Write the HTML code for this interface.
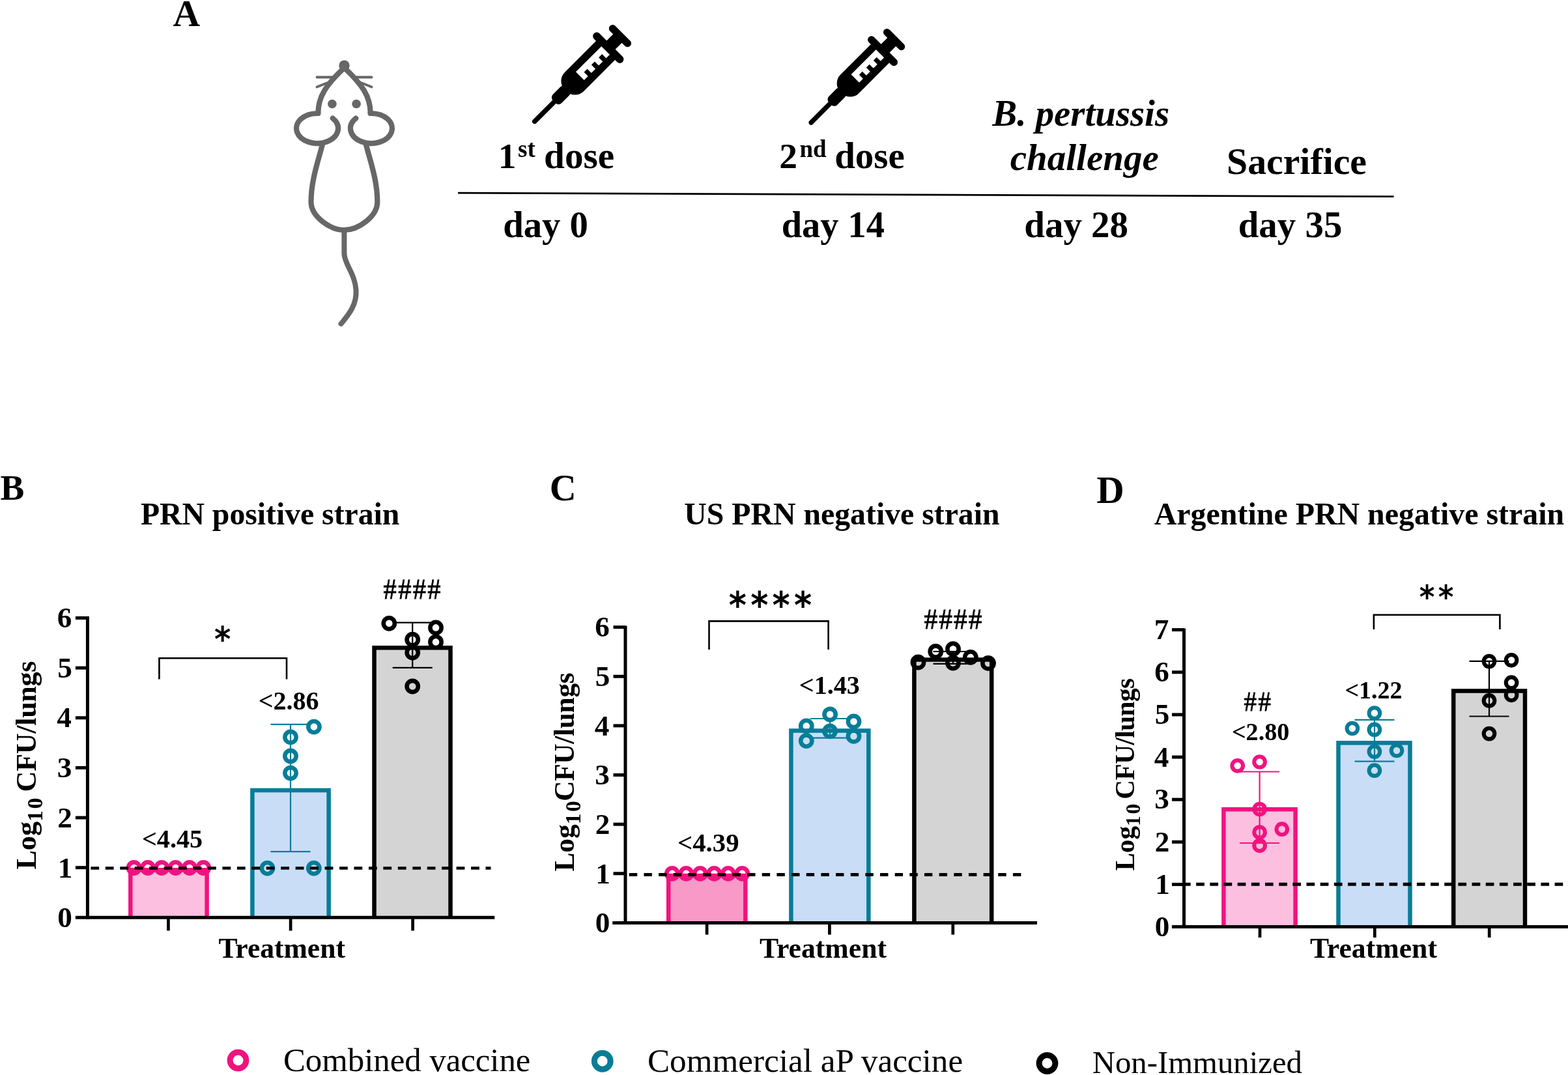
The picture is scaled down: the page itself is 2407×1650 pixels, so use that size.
<!DOCTYPE html>
<html><head><meta charset="utf-8"><title>Figure</title>
<style>html,body{margin:0;padding:0;background:#fff;} svg{display:block;}</style></head>
<body><svg width="2407" height="1650" viewBox="0 0 2407 1650" font-family="'Liberation Serif', 'Times New Roman', serif">
<rect width="2407" height="1650" fill="#fff"/>
<rect x="200.30" y="1335.20" width="117.30" height="73.10" fill="#fdbfe0"/>
<path d="M200.30,1408.30 L200.30,1335.20 L317.60,1335.20 L317.60,1408.30" fill="none" stroke="#f0137f" stroke-width="6.5" stroke-linejoin="miter"/>
<rect x="387.40" y="1213.00" width="117.20" height="195.30" fill="#c9ddf7"/>
<path d="M387.40,1408.30 L387.40,1213.00 L504.60,1213.00 L504.60,1408.30" fill="none" stroke="#077d97" stroke-width="6.5" stroke-linejoin="miter"/>
<rect x="574.50" y="994.20" width="117.00" height="414.10" fill="#d4d4d4"/>
<path d="M574.50,1408.30 L574.50,994.20 L691.50,994.20 L691.50,1408.30" fill="none" stroke="#000" stroke-width="6.5" stroke-linejoin="miter"/>
<line x1="446.00" y1="1111.90" x2="446.00" y2="1307.10" stroke="#077d97" stroke-width="2.2" stroke-linecap="butt" />
<line x1="415.50" y1="1111.90" x2="476.50" y2="1111.90" stroke="#077d97" stroke-width="2.2" stroke-linecap="butt" />
<line x1="415.50" y1="1307.10" x2="476.50" y2="1307.10" stroke="#077d97" stroke-width="2.2" stroke-linecap="butt" />
<line x1="633.20" y1="955.70" x2="633.20" y2="1024.90" stroke="#000" stroke-width="2.2" stroke-linecap="butt" />
<line x1="602.70" y1="955.70" x2="663.70" y2="955.70" stroke="#000" stroke-width="2.2" stroke-linecap="butt" />
<line x1="602.70" y1="1024.90" x2="663.70" y2="1024.90" stroke="#000" stroke-width="2.2" stroke-linecap="butt" />
<circle cx="205.60" cy="1332.00" r="8.6" fill="none" stroke="#f0137f" stroke-width="6.6"/>
<circle cx="226.92" cy="1332.00" r="8.6" fill="none" stroke="#f0137f" stroke-width="6.6"/>
<circle cx="248.24" cy="1332.00" r="8.6" fill="none" stroke="#f0137f" stroke-width="6.6"/>
<circle cx="269.56" cy="1332.00" r="8.6" fill="none" stroke="#f0137f" stroke-width="6.6"/>
<circle cx="290.88" cy="1332.00" r="8.6" fill="none" stroke="#f0137f" stroke-width="6.6"/>
<circle cx="312.20" cy="1332.00" r="8.6" fill="none" stroke="#f0137f" stroke-width="6.6"/>
<circle cx="446.00" cy="1131.40" r="8.6" fill="none" stroke="#077d97" stroke-width="6.6"/>
<circle cx="446.00" cy="1160.50" r="8.6" fill="none" stroke="#077d97" stroke-width="6.6"/>
<circle cx="446.00" cy="1186.60" r="8.6" fill="none" stroke="#077d97" stroke-width="6.6"/>
<circle cx="481.90" cy="1115.60" r="8.6" fill="none" stroke="#077d97" stroke-width="6.6"/>
<circle cx="410.40" cy="1332.60" r="8.6" fill="none" stroke="#077d97" stroke-width="6.6"/>
<circle cx="481.80" cy="1332.60" r="8.6" fill="none" stroke="#077d97" stroke-width="6.6"/>
<circle cx="597.30" cy="956.80" r="8.6" fill="none" stroke="#000" stroke-width="6.6"/>
<circle cx="633.20" cy="981.70" r="8.6" fill="none" stroke="#000" stroke-width="6.6"/>
<circle cx="633.20" cy="1001.60" r="8.6" fill="none" stroke="#000" stroke-width="6.6"/>
<circle cx="669.00" cy="963.40" r="8.6" fill="none" stroke="#000" stroke-width="6.6"/>
<circle cx="669.00" cy="985.40" r="8.6" fill="none" stroke="#000" stroke-width="6.6"/>
<circle cx="633.20" cy="1053.50" r="8.6" fill="none" stroke="#000" stroke-width="6.6"/>
<line x1="134.40" y1="1332.50" x2="753.50" y2="1332.50" stroke="#000" stroke-width="4.6" stroke-dasharray="12.8 9.65" stroke-dashoffset="17.5"/>
<line x1="134.40" y1="946.00" x2="134.40" y2="1410.80" stroke="#000" stroke-width="5.0" stroke-linecap="butt" />
<line x1="115.80" y1="1408.30" x2="759.30" y2="1408.30" stroke="#000" stroke-width="5.0" stroke-linecap="butt" />
<line x1="115.90" y1="1331.67" x2="134.40" y2="1331.67" stroke="#000" stroke-width="5.0" stroke-linecap="butt" />
<line x1="115.90" y1="1255.04" x2="134.40" y2="1255.04" stroke="#000" stroke-width="5.0" stroke-linecap="butt" />
<line x1="115.90" y1="1178.41" x2="134.40" y2="1178.41" stroke="#000" stroke-width="5.0" stroke-linecap="butt" />
<line x1="115.90" y1="1101.78" x2="134.40" y2="1101.78" stroke="#000" stroke-width="5.0" stroke-linecap="butt" />
<line x1="115.90" y1="1025.15" x2="134.40" y2="1025.15" stroke="#000" stroke-width="5.0" stroke-linecap="butt" />
<line x1="115.90" y1="948.52" x2="134.40" y2="948.52" stroke="#000" stroke-width="5.0" stroke-linecap="butt" />
<line x1="258.40" y1="1408.30" x2="258.40" y2="1428.50" stroke="#000" stroke-width="4.7" stroke-linecap="butt" />
<line x1="446.10" y1="1408.30" x2="446.10" y2="1428.50" stroke="#000" stroke-width="4.7" stroke-linecap="butt" />
<line x1="633.60" y1="1408.30" x2="633.60" y2="1428.50" stroke="#000" stroke-width="4.7" stroke-linecap="butt" />
<polyline points="244.40,1042.50 244.40,1010.20 440.00,1010.20 440.00,1042.50" fill="none" stroke="#000" stroke-width="2.6"/>
<rect x="1026.20" y="1344.10" width="118.10" height="72.30" fill="#f899c8"/>
<path d="M1026.20,1416.40 L1026.20,1344.10 L1144.30,1344.10 L1144.30,1416.40" fill="none" stroke="#f0137f" stroke-width="6.5" stroke-linejoin="miter"/>
<rect x="1214.40" y="1121.60" width="118.90" height="294.80" fill="#c9ddf7"/>
<path d="M1214.40,1416.40 L1214.40,1121.60 L1333.30,1121.60 L1333.30,1416.40" fill="none" stroke="#077d97" stroke-width="6.5" stroke-linejoin="miter"/>
<rect x="1403.40" y="1012.60" width="118.80" height="403.80" fill="#d4d4d4"/>
<path d="M1403.40,1416.40 L1403.40,1012.60 L1522.20,1012.60 L1522.20,1416.40" fill="none" stroke="#000" stroke-width="6.5" stroke-linejoin="miter"/>
<line x1="1274.10" y1="1103.00" x2="1274.10" y2="1132.60" stroke="#077d97" stroke-width="2.2" stroke-linecap="butt" />
<line x1="1243.60" y1="1103.00" x2="1304.60" y2="1103.00" stroke="#077d97" stroke-width="2.2" stroke-linecap="butt" />
<line x1="1243.60" y1="1132.60" x2="1304.60" y2="1132.60" stroke="#077d97" stroke-width="2.2" stroke-linecap="butt" />
<line x1="1463.00" y1="1000.00" x2="1463.00" y2="1018.90" stroke="#000" stroke-width="2.2" stroke-linecap="butt" />
<line x1="1432.50" y1="1000.00" x2="1493.50" y2="1000.00" stroke="#000" stroke-width="2.2" stroke-linecap="butt" />
<line x1="1432.50" y1="1018.90" x2="1493.50" y2="1018.90" stroke="#000" stroke-width="2.2" stroke-linecap="butt" />
<circle cx="1031.80" cy="1340.90" r="8.6" fill="none" stroke="#f0137f" stroke-width="6.6"/>
<circle cx="1053.30" cy="1340.90" r="8.6" fill="none" stroke="#f0137f" stroke-width="6.6"/>
<circle cx="1074.80" cy="1340.90" r="8.6" fill="none" stroke="#f0137f" stroke-width="6.6"/>
<circle cx="1096.30" cy="1340.90" r="8.6" fill="none" stroke="#f0137f" stroke-width="6.6"/>
<circle cx="1117.80" cy="1340.90" r="8.6" fill="none" stroke="#f0137f" stroke-width="6.6"/>
<circle cx="1139.30" cy="1340.90" r="8.6" fill="none" stroke="#f0137f" stroke-width="6.6"/>
<circle cx="1237.80" cy="1114.40" r="8.6" fill="none" stroke="#077d97" stroke-width="6.6"/>
<circle cx="1237.80" cy="1137.10" r="8.6" fill="none" stroke="#077d97" stroke-width="6.6"/>
<circle cx="1274.10" cy="1096.50" r="8.6" fill="none" stroke="#077d97" stroke-width="6.6"/>
<circle cx="1274.10" cy="1122.30" r="8.6" fill="none" stroke="#077d97" stroke-width="6.6"/>
<circle cx="1310.50" cy="1107.50" r="8.6" fill="none" stroke="#077d97" stroke-width="6.6"/>
<circle cx="1310.50" cy="1129.90" r="8.6" fill="none" stroke="#077d97" stroke-width="6.6"/>
<circle cx="1409.50" cy="1016.50" r="8.6" fill="none" stroke="#000" stroke-width="6.6"/>
<circle cx="1436.30" cy="1000.00" r="8.6" fill="none" stroke="#000" stroke-width="6.6"/>
<circle cx="1463.00" cy="996.20" r="8.6" fill="none" stroke="#000" stroke-width="6.6"/>
<circle cx="1463.00" cy="1017.50" r="8.6" fill="none" stroke="#000" stroke-width="6.6"/>
<circle cx="1489.80" cy="1008.90" r="8.6" fill="none" stroke="#000" stroke-width="6.6"/>
<circle cx="1517.00" cy="1017.90" r="8.6" fill="none" stroke="#000" stroke-width="6.6"/>
<line x1="960.00" y1="1342.50" x2="1567.60" y2="1342.50" stroke="#000" stroke-width="4.8" stroke-dasharray="12.4 10.26" stroke-dashoffset="16.86"/>
<line x1="960.00" y1="960.50" x2="960.00" y2="1418.90" stroke="#000" stroke-width="5.0" stroke-linecap="butt" />
<line x1="940.20" y1="1416.40" x2="1592.00" y2="1416.40" stroke="#000" stroke-width="5.0" stroke-linecap="butt" />
<line x1="941.50" y1="1340.77" x2="960.00" y2="1340.77" stroke="#000" stroke-width="5.0" stroke-linecap="butt" />
<line x1="941.50" y1="1265.14" x2="960.00" y2="1265.14" stroke="#000" stroke-width="5.0" stroke-linecap="butt" />
<line x1="941.50" y1="1189.51" x2="960.00" y2="1189.51" stroke="#000" stroke-width="5.0" stroke-linecap="butt" />
<line x1="941.50" y1="1113.88" x2="960.00" y2="1113.88" stroke="#000" stroke-width="5.0" stroke-linecap="butt" />
<line x1="941.50" y1="1038.25" x2="960.00" y2="1038.25" stroke="#000" stroke-width="5.0" stroke-linecap="butt" />
<line x1="941.50" y1="962.62" x2="960.00" y2="962.62" stroke="#000" stroke-width="5.0" stroke-linecap="butt" />
<line x1="1085.10" y1="1416.40" x2="1085.10" y2="1434.60" stroke="#000" stroke-width="4.7" stroke-linecap="butt" />
<line x1="1273.40" y1="1416.40" x2="1273.40" y2="1434.60" stroke="#000" stroke-width="4.7" stroke-linecap="butt" />
<line x1="1462.80" y1="1416.40" x2="1462.80" y2="1434.60" stroke="#000" stroke-width="4.7" stroke-linecap="butt" />
<polyline points="1088.50,997.10 1088.50,953.40 1271.60,953.40 1271.60,997.10" fill="none" stroke="#000" stroke-width="2.6"/>
<rect x="1878.40" y="1242.20" width="110.20" height="180.40" fill="#fdbfe0"/>
<path d="M1878.40,1422.60 L1878.40,1242.20 L1988.60,1242.20 L1988.60,1422.60" fill="none" stroke="#f0137f" stroke-width="6.5" stroke-linejoin="miter"/>
<rect x="2054.50" y="1140.20" width="110.00" height="282.40" fill="#c9ddf7"/>
<path d="M2054.50,1422.60 L2054.50,1140.20 L2164.50,1140.20 L2164.50,1422.60" fill="none" stroke="#077d97" stroke-width="6.5" stroke-linejoin="miter"/>
<rect x="2231.20" y="1060.60" width="109.80" height="362.00" fill="#d4d4d4"/>
<path d="M2231.20,1422.60 L2231.20,1060.60 L2341.00,1060.60 L2341.00,1422.60" fill="none" stroke="#000" stroke-width="6.5" stroke-linejoin="miter"/>
<line x1="1933.60" y1="1184.50" x2="1933.60" y2="1294.00" stroke="#f0137f" stroke-width="2.2" stroke-linecap="butt" />
<line x1="1903.10" y1="1184.50" x2="1964.10" y2="1184.50" stroke="#f0137f" stroke-width="2.2" stroke-linecap="butt" />
<line x1="1903.10" y1="1294.00" x2="1964.10" y2="1294.00" stroke="#f0137f" stroke-width="2.2" stroke-linecap="butt" />
<line x1="2110.00" y1="1104.90" x2="2110.00" y2="1168.70" stroke="#077d97" stroke-width="2.2" stroke-linecap="butt" />
<line x1="2079.50" y1="1104.90" x2="2140.50" y2="1104.90" stroke="#077d97" stroke-width="2.2" stroke-linecap="butt" />
<line x1="2079.50" y1="1168.70" x2="2140.50" y2="1168.70" stroke="#077d97" stroke-width="2.2" stroke-linecap="butt" />
<line x1="2286.00" y1="1014.90" x2="2286.00" y2="1099.50" stroke="#000" stroke-width="2.2" stroke-linecap="butt" />
<line x1="2255.50" y1="1014.90" x2="2316.50" y2="1014.90" stroke="#000" stroke-width="2.2" stroke-linecap="butt" />
<line x1="2255.50" y1="1099.50" x2="2316.50" y2="1099.50" stroke="#000" stroke-width="2.2" stroke-linecap="butt" />
<circle cx="1899.70" cy="1175.30" r="8.3" fill="none" stroke="#f0137f" stroke-width="6.1"/>
<circle cx="1933.60" cy="1169.50" r="8.3" fill="none" stroke="#f0137f" stroke-width="6.1"/>
<circle cx="1933.60" cy="1242.00" r="8.3" fill="none" stroke="#f0137f" stroke-width="6.1"/>
<circle cx="1933.60" cy="1277.50" r="8.3" fill="none" stroke="#f0137f" stroke-width="6.1"/>
<circle cx="1967.80" cy="1272.70" r="8.3" fill="none" stroke="#f0137f" stroke-width="6.1"/>
<circle cx="1933.60" cy="1297.80" r="8.3" fill="none" stroke="#f0137f" stroke-width="6.1"/>
<circle cx="2109.90" cy="1094.50" r="8.3" fill="none" stroke="#077d97" stroke-width="6.1"/>
<circle cx="2075.90" cy="1118.00" r="8.3" fill="none" stroke="#077d97" stroke-width="6.1"/>
<circle cx="2109.90" cy="1119.90" r="8.3" fill="none" stroke="#077d97" stroke-width="6.1"/>
<circle cx="2109.90" cy="1153.60" r="8.3" fill="none" stroke="#077d97" stroke-width="6.1"/>
<circle cx="2144.00" cy="1152.00" r="8.3" fill="none" stroke="#077d97" stroke-width="6.1"/>
<circle cx="2109.90" cy="1182.60" r="8.3" fill="none" stroke="#077d97" stroke-width="6.1"/>
<circle cx="2286.00" cy="1015.10" r="8.3" fill="none" stroke="#000" stroke-width="6.1"/>
<circle cx="2320.10" cy="1013.30" r="8.3" fill="none" stroke="#000" stroke-width="6.1"/>
<circle cx="2320.10" cy="1047.70" r="8.3" fill="none" stroke="#000" stroke-width="6.1"/>
<circle cx="2320.10" cy="1066.80" r="8.3" fill="none" stroke="#000" stroke-width="6.1"/>
<circle cx="2286.00" cy="1075.40" r="8.3" fill="none" stroke="#000" stroke-width="6.1"/>
<circle cx="2286.00" cy="1126.10" r="8.3" fill="none" stroke="#000" stroke-width="6.1"/>
<line x1="1817.50" y1="1357.20" x2="2410.00" y2="1357.20" stroke="#000" stroke-width="5.0" stroke-dasharray="12.7 8.47" stroke-dashoffset="2.5"/>
<line x1="1817.50" y1="964.40" x2="1817.50" y2="1425.10" stroke="#000" stroke-width="5.0" stroke-linecap="butt" />
<line x1="1798.90" y1="1422.60" x2="2410.00" y2="1422.60" stroke="#000" stroke-width="5.0" stroke-linecap="butt" />
<line x1="1799.00" y1="1357.46" x2="1817.50" y2="1357.46" stroke="#000" stroke-width="5.0" stroke-linecap="butt" />
<line x1="1799.00" y1="1292.32" x2="1817.50" y2="1292.32" stroke="#000" stroke-width="5.0" stroke-linecap="butt" />
<line x1="1799.00" y1="1227.18" x2="1817.50" y2="1227.18" stroke="#000" stroke-width="5.0" stroke-linecap="butt" />
<line x1="1799.00" y1="1162.04" x2="1817.50" y2="1162.04" stroke="#000" stroke-width="5.0" stroke-linecap="butt" />
<line x1="1799.00" y1="1096.90" x2="1817.50" y2="1096.90" stroke="#000" stroke-width="5.0" stroke-linecap="butt" />
<line x1="1799.00" y1="1031.76" x2="1817.50" y2="1031.76" stroke="#000" stroke-width="5.0" stroke-linecap="butt" />
<line x1="1799.00" y1="966.62" x2="1817.50" y2="966.62" stroke="#000" stroke-width="5.0" stroke-linecap="butt" />
<line x1="1934.00" y1="1422.60" x2="1934.00" y2="1439.00" stroke="#000" stroke-width="4.7" stroke-linecap="butt" />
<line x1="2110.30" y1="1422.60" x2="2110.30" y2="1439.00" stroke="#000" stroke-width="4.7" stroke-linecap="butt" />
<line x1="2286.20" y1="1422.60" x2="2286.20" y2="1439.00" stroke="#000" stroke-width="4.7" stroke-linecap="butt" />
<polyline points="2108.90,966.10 2108.90,943.80 2302.40,943.80 2302.40,966.10" fill="none" stroke="#000" stroke-width="2.6"/>
<circle cx="365.5" cy="1627.5" r="12.4" fill="none" stroke="#f0137f" stroke-width="9"/>
<circle cx="924.75" cy="1628.75" r="12.4" fill="none" stroke="#077d97" stroke-width="9"/>
<circle cx="1607.5" cy="1632.0" r="12.4" fill="none" stroke="#000" stroke-width="9"/>
<line x1="703" y1="296.2" x2="2139.5" y2="301.7" stroke="#000" stroke-width="2.8"/>
<g transform="translate(820.70,186.30) rotate(-45) scale(1.0)" fill="#000">
<line x1="0" y1="0" x2="46" y2="0" stroke="#000" stroke-width="7.4" stroke-linecap="round"/>
<rect x="42.5" y="-9.4" width="30" height="18.8" rx="6.5"/>
<path d="M154.5,-20.6 L86,-20.6 A19,19 0 0 0 67,-1.6 L67,1.6 A19,19 0 0 0 86,20.6 L154.5,20.6 Z"/>
<path fill="#fff" d="M98.4,-9 L154.5,-9 L154.5,9 L146.2,9 L146.2,0.2 L139,0.2 L139,9 L130.2,9 L130.2,0.2 L123,0.2 L123,9 L114.2,9 L114.2,0.2 L107,0.2 L107,9 L98.4,9 Z"/>
<rect x="154" y="-31" width="11.8" height="62" rx="5.9"/>
<rect x="165" y="-9.4" width="16" height="18.8"/>
<rect x="179.8" y="-21.8" width="11.4" height="43.6" rx="5.7"/>
</g>
<g transform="translate(1245.10,188.10) rotate(-45) scale(0.972)" fill="#000">
<line x1="0" y1="0" x2="46" y2="0" stroke="#000" stroke-width="7.4" stroke-linecap="round"/>
<rect x="42.5" y="-9.4" width="30" height="18.8" rx="6.5"/>
<path d="M154.5,-20.6 L86,-20.6 A19,19 0 0 0 67,-1.6 L67,1.6 A19,19 0 0 0 86,20.6 L154.5,20.6 Z"/>
<path fill="#fff" d="M98.4,-9 L154.5,-9 L154.5,9 L146.2,9 L146.2,0.2 L139,0.2 L139,9 L130.2,9 L130.2,0.2 L123,0.2 L123,9 L114.2,9 L114.2,0.2 L107,0.2 L107,9 L98.4,9 Z"/>
<rect x="154" y="-31" width="11.8" height="62" rx="5.9"/>
<rect x="165" y="-9.4" width="16" height="18.8"/>
<rect x="179.8" y="-21.8" width="11.4" height="43.6" rx="5.7"/>
</g>
<g fill="none" stroke="#676767" stroke-width="8.2" stroke-linecap="round" stroke-linejoin="miter">
<path d="M488.3,174 C488.3,148.2 501.1,129.6 528.5,104 C555.9,129.6 568.7,148.2 568.7,174"/>
<path d="M488.3,174 L487,174 A32,23 0 1 0 510.8,181.6"/>
<path d="M568.7,174 L570,174 A32,23 0 1 1 546.2,181.6"/>
<path d="M495.1,221 C489.7,243.9 477.5,275 477.5,310 C477.5,332 506.4,353 528.4,353 C550.4,353 579.3,332 579.3,310 C579.3,275 567.1,243.9 561.7,221"/>
<path stroke-width="8.0" d="M528.4,353 L528.4,389 C528.4,405 545,420 546.5,445 C548,468 535,483 523.5,497"/>
<path stroke-width="3.8" d="M486.5,118.5 L512,118.5 M486.5,133.5 L502,127.2 M570.5,118.5 L545,118.5 M570.5,133.5 L555,127.2"/>
</g>
<circle cx="528.5" cy="100.6" r="8.2" fill="#676767"/>
<circle cx="509.9" cy="159.5" r="6.8" fill="#676767"/>
<circle cx="547.1" cy="159.5" r="6.8" fill="#676767"/>
<g fill="#000">
<text x="265.52" y="39.80" font-size="57.57" font-weight="bold" fill="#000" >A</text>
<text x="764.66" y="257.70" font-size="55.50" font-weight="bold" fill="#000" >1</text>
<text x="794.99" y="241.00" font-size="37.00" font-weight="bold" fill="#000" >st</text>
<text x="835.11" y="257.70" font-size="57.14" font-weight="bold" fill="#000" >dose</text>
<text x="1196.28" y="257.50" font-size="55.50" font-weight="bold" fill="#000" >2</text>
<text x="1227.39" y="241.00" font-size="37.00" font-weight="bold" fill="#000" >nd</text>
<text x="1281.23" y="257.50" font-size="56.87" font-weight="bold" fill="#000" >dose</text>
<text x="1523.37" y="192.60" font-size="56.85" font-weight="bold" font-style="italic" fill="#000" >B. pertussis</text>
<text x="1550.73" y="261.00" font-size="57.03" font-weight="bold" font-style="italic" fill="#000" >challenge</text>
<text x="1883.11" y="266.60" font-size="57.75" font-weight="bold" fill="#000" >Sacrifice</text>
<text x="772.13" y="363.70" font-size="56.73" font-weight="bold" fill="#000" >day 0</text>
<text x="1199.75" y="363.70" font-size="56.36" font-weight="bold" fill="#000" >day 14</text>
<text x="1572.32" y="363.50" font-size="56.92" font-weight="bold" fill="#000" >day 28</text>
<text x="1900.72" y="363.50" font-size="56.89" font-weight="bold" fill="#000" >day 35</text>
<text x="0.60" y="766.50" font-size="55.10" font-weight="bold" fill="#000" >B</text>
<text x="843.67" y="767.50" font-size="56.60" font-weight="bold" fill="#000" >C</text>
<text x="1683.32" y="772.30" font-size="58.80" font-weight="bold" fill="#000" >D</text>
<text x="215.95" y="805.40" font-size="47.69" font-weight="bold" fill="#000" >PRN positive strain</text>
<text x="1050.34" y="805.40" font-size="47.78" font-weight="bold" fill="#000" >US PRN negative strain</text>
<text x="1771.72" y="805.40" font-size="47.93" font-weight="bold" fill="#000" >Argentine PRN negative strain</text>
<text x="335.53" y="1469.80" font-size="43.58" font-weight="bold" fill="#000" >Treatment</text>
<text x="1166.03" y="1469.80" font-size="43.72" font-weight="bold" fill="#000" >Treatment</text>
<text x="2010.93" y="1469.80" font-size="43.72" font-weight="bold" fill="#000" >Treatment</text>
<text x="217.89" y="1300.70" font-size="40.22" font-weight="bold" fill="#000" >&lt;4.45</text>
<text x="396.80" y="1088.60" font-size="40.00" font-weight="bold" fill="#000" >&lt;2.86</text>
<text x="1040.06" y="1306.60" font-size="40.72" font-weight="bold" fill="#000" >&lt;4.39</text>
<text x="1226.79" y="1064.80" font-size="40.13" font-weight="bold" fill="#000" >&lt;1.43</text>
<text x="1890.89" y="1136.00" font-size="38.12" font-weight="bold" fill="#000" >&lt;2.80</text>
<text x="2064.40" y="1071.70" font-size="37.98" font-weight="bold" fill="#000" >&lt;1.22</text>
<text x="434.97" y="1643.75" font-size="50.81" font-weight="normal" fill="#000" >Combined vaccine</text>
<text x="993.95" y="1644.50" font-size="51.20" font-weight="normal" fill="#000" >Commercial aP vaccine</text>
<text x="1676.79" y="1647.00" font-size="48.74" font-weight="normal" fill="#000" >Non-Immunized</text>
<text x="88.21" y="1422.54" font-size="45.20" font-weight="bold" fill="#000" >0</text>
<text x="88.66" y="1346.59" font-size="45.20" font-weight="bold" fill="#000" >1</text>
<text x="88.21" y="1269.50" font-size="45.20" font-weight="bold" fill="#000" >2</text>
<text x="87.76" y="1192.65" font-size="45.20" font-weight="bold" fill="#000" >3</text>
<text x="87.30" y="1116.47" font-size="45.20" font-weight="bold" fill="#000" >4</text>
<text x="88.21" y="1039.61" font-size="45.20" font-weight="bold" fill="#000" >5</text>
<text x="87.76" y="962.76" font-size="45.20" font-weight="bold" fill="#000" >6</text>
<text x="913.71" y="1430.64" font-size="45.20" font-weight="bold" fill="#000" >0</text>
<text x="914.16" y="1355.69" font-size="45.20" font-weight="bold" fill="#000" >1</text>
<text x="913.71" y="1279.60" font-size="45.20" font-weight="bold" fill="#000" >2</text>
<text x="913.26" y="1203.75" font-size="45.20" font-weight="bold" fill="#000" >3</text>
<text x="912.80" y="1128.57" font-size="45.20" font-weight="bold" fill="#000" >4</text>
<text x="913.71" y="1052.71" font-size="45.20" font-weight="bold" fill="#000" >5</text>
<text x="913.26" y="976.86" font-size="45.20" font-weight="bold" fill="#000" >6</text>
<text x="1772.71" y="1436.84" font-size="45.20" font-weight="bold" fill="#000" >0</text>
<text x="1773.16" y="1372.38" font-size="45.20" font-weight="bold" fill="#000" >1</text>
<text x="1772.71" y="1306.78" font-size="45.20" font-weight="bold" fill="#000" >2</text>
<text x="1772.26" y="1241.42" font-size="45.20" font-weight="bold" fill="#000" >3</text>
<text x="1771.80" y="1176.73" font-size="45.20" font-weight="bold" fill="#000" >4</text>
<text x="1772.71" y="1111.36" font-size="45.20" font-weight="bold" fill="#000" >5</text>
<text x="1772.26" y="1046.00" font-size="45.20" font-weight="bold" fill="#000" >6</text>
<text x="1771.80" y="981.31" font-size="45.20" font-weight="bold" fill="#000" >7</text>
<text transform="translate(55.40,1334.60) rotate(-90)" font-size="44.20" font-weight="bold">Log<tspan font-size="34.03" dy="9.95">1</tspan><tspan font-size="34.03" dx="2.5">0</tspan><tspan dy="-9.95" dx="-1.7" letter-spacing="-0.36"> CFU/lungs</tspan></text>
<text transform="translate(880.80,1337.60) rotate(-90)" font-size="43.40" font-weight="bold">Log<tspan font-size="33.42" dy="9.77">1</tspan><tspan font-size="33.42" dx="2.5">0</tspan><tspan dy="-9.77" dx="-0.5" letter-spacing="-0.33">CFU/lungs</tspan></text>
<text transform="translate(1741.00,1336.60) rotate(-90)" font-size="41.20" font-weight="bold">Log<tspan font-size="31.72" dy="9.27">1</tspan><tspan font-size="31.72" dx="2.5">0</tspan><tspan dy="-9.27" dx="-2.7" letter-spacing="-0.53"> CFU/lungs</tspan></text>
<text transform="translate(589.00,919.35) scale(0.9001,1)" x="-0.50" y="0" font-size="44.92" font-weight="normal" stroke="#000" stroke-width="0.8" letter-spacing="2.65">####</text>
<text transform="translate(1419.00,965.30) scale(0.9211,1)" x="-0.50" y="0" font-size="45.08" font-weight="normal" stroke="#000" stroke-width="0.8" letter-spacing="2.11">####</text>
<text transform="translate(1910.00,1090.50) scale(0.9333,1)" x="-0.43" y="0" font-size="41.69" font-weight="normal" stroke="#000" stroke-width="0.8" letter-spacing="2.73">##</text>
<text transform="translate(329.03,972.50) scale(1,1.1154)" y="24.65" font-family="'DejaVu Sans', sans-serif" font-weight="bold" font-size="48.33" letter-spacing="0.00">*</text>
<text transform="translate(1118.81,920.00) scale(1,1.0980)" y="26.46" font-family="'DejaVu Sans', sans-serif" font-weight="bold" font-size="51.88" letter-spacing="6.25">****</text>
<text transform="translate(2178.85,909.30) scale(1,1.0868)" y="23.06" font-family="'DejaVu Sans', sans-serif" font-weight="bold" font-size="45.21" letter-spacing="5.34">**</text>
</g>
</svg></body></html>
